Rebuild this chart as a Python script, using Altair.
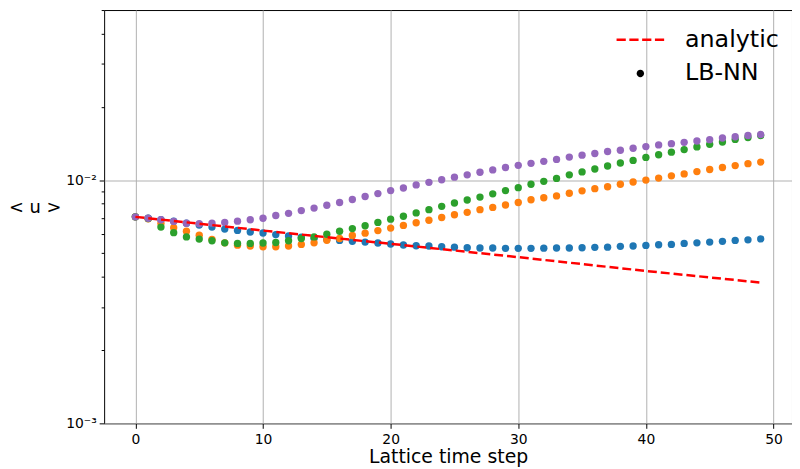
import altair as alt
import pandas as pd

steps = list(range(50))

run_blue = [0.00706, 0.00697, 0.00687, 0.00678, 0.00665, 0.00653, 0.00641, 0.00629, 0.00621, 0.00612,
            0.00606, 0.00597, 0.00589, 0.00582, 0.00575, 0.00570, 0.00565, 0.00560, 0.00556, 0.00551,
            0.00546, 0.00541, 0.00537, 0.00536, 0.00532, 0.00530, 0.00527, 0.00526, 0.00526, 0.00524,
            0.00524, 0.00524, 0.00525, 0.00526, 0.00526, 0.00527, 0.00529, 0.00530, 0.00534, 0.00536,
            0.00539, 0.00542, 0.00544, 0.00549, 0.00552, 0.00556, 0.00560, 0.00565, 0.00568, 0.00573]

run_orange = [0.00706, 0.00693, 0.00663, 0.00637, 0.00616, 0.00593, 0.00570, 0.00552, 0.00540, 0.00536,
              0.00532, 0.00532, 0.00536, 0.00544, 0.00552, 0.00566, 0.00575, 0.00592, 0.00605, 0.00620,
              0.00635, 0.00651, 0.00668, 0.00684, 0.00702, 0.00720, 0.00737, 0.00756, 0.00772, 0.00790,
              0.00809, 0.00830, 0.00846, 0.00861, 0.00883, 0.00903, 0.00922, 0.00939, 0.00961, 0.00982,
              0.01000, 0.01019, 0.01041, 0.01060, 0.01084, 0.01105, 0.01126, 0.01147, 0.01168, 0.01186]

run_green = [0.00706, 0.00695, 0.00641, 0.00608, 0.00584, 0.00572, 0.00563, 0.00552, 0.00549, 0.00549,
             0.00551, 0.00554, 0.00563, 0.00575, 0.00584, 0.00599, 0.00616, 0.00632, 0.00649, 0.00670,
             0.00691, 0.00710, 0.00733, 0.00756, 0.00780, 0.00805, 0.00828, 0.00851, 0.00878, 0.00905,
             0.00931, 0.00961, 0.00988, 0.01016, 0.01051, 0.01080, 0.01111, 0.01143, 0.01175, 0.01205,
             0.01239, 0.01271, 0.01302, 0.01335, 0.01369, 0.01403, 0.01434, 0.01470, 0.01497, 0.01525]

run_purple = [0.00706, 0.00697, 0.00687, 0.00676, 0.00665, 0.00662, 0.00665, 0.00670, 0.00678, 0.00687,
              0.00697, 0.00715, 0.00730, 0.00749, 0.00767, 0.00788, 0.00809, 0.00832, 0.00856, 0.00880,
              0.00905, 0.00928, 0.00955, 0.00979, 0.01003, 0.01028, 0.01051, 0.01077, 0.01101, 0.01126,
              0.01150, 0.01172, 0.01194, 0.01216, 0.01243, 0.01266, 0.01286, 0.01310, 0.01326, 0.01351,
              0.01373, 0.01395, 0.01412, 0.01429, 0.01448, 0.01466, 0.01489, 0.01507, 0.01525, 0.01540]

analytic_steps = [0, 10, 20, 30, 40, 49]
analytic_vals = [0.00706, 0.00620, 0.00547, 0.00482, 0.00423, 0.00379]

run_names = ["run 1", "run 2", "run 3", "run 4"]
run_colors = ["#1f77b4", "#ff7f0e", "#2ca02c", "#9467bd"]
legend_labels = ["analytic", "LB-NN"]

points_df = pd.concat(
    [pd.DataFrame({"t": steps, "u": vals, "run": name})
     for name, vals in zip(run_names, [run_blue, run_orange, run_green, run_purple])],
    ignore_index=True,
)
analytic_df = pd.DataFrame({"t": analytic_steps, "u": analytic_vals})
legend_df = pd.DataFrame({"lab": legend_labels})

FONT = "DejaVu Sans"
x_scale = alt.Scale(domain=[-2.45, 51.45], nice=False, zero=False)
y_scale = alt.Scale(type="log", domain=[0.001, 0.05], nice=False)

major_test = "abs(log(datum.value)/LN10 - round(log(datum.value)/LN10)) < 0.001"
y_ticks = [0.001, 0.002, 0.003, 0.004, 0.005, 0.006, 0.007, 0.008, 0.009,
           0.01, 0.02, 0.03, 0.04, 0.05]

x_axis = alt.Axis(
    values=[0, 10, 20, 30, 40, 50], grid=True, gridColor="#b0b0b0", gridWidth=1,
    domain=False, tickColor="black", tickSize=5, labelFontSize=14, labelFont=FONT,
    labelColor="black", labelFlush=False, labelPadding=4,
    title="Lattice time step", titleFont=FONT, titleFontSize=19, titleFontWeight="normal",
    titleColor="black", titleBaseline="alphabetic", titleY=40,
)
y_axis = alt.Axis(
    values=y_ticks, grid=True, gridColor="#b0b0b0", gridWidth=1,
    gridOpacity={"condition": {"test": major_test, "value": 1}, "value": 0},
    tickSize={"condition": {"test": major_test, "value": 5}, "value": 3},
    domain=False, tickColor="black", labelFontSize=14, labelFont=FONT, labelColor="black",
    labelFlush=False, labelPadding=3,
    labelExpr="abs(datum.value - 0.001) < 0.00001 ? '10⁻³' : (abs(datum.value - 0.01) < 0.0001 ? '10⁻²' : '')",
    title="< u >", titleFont=FONT, titleFontSize=18, titleFontWeight="normal", titleColor="black",
    titleAngle=0, titleAlign="center", titleBaseline="middle", titleX=-70, titleY=199,
)

points = alt.Chart(points_df).mark_circle(size=55, opacity=1).encode(
    x=alt.X("t:Q", scale=x_scale, axis=x_axis),
    y=alt.Y("u:Q", scale=y_scale, axis=y_axis),
    fill=alt.Fill("run:N", scale=alt.Scale(domain=run_names, range=run_colors), legend=None),
)

analytic = alt.Chart(analytic_df).mark_line(color="red", strokeWidth=2.5, strokeDash=[9, 4]).encode(
    x=alt.X("t:Q", scale=x_scale),
    y=alt.Y("u:Q", scale=y_scale),
)

# legend symbols: a dashed segment (four filled dashes) and a filled dot
dash_path = ("M-2,-0.1H-1.225V0.1H-2Z M-0.925,-0.1H-0.15V0.1H-0.925Z "
             "M0.15,-0.1H0.925V0.1H0.15Z M1.225,-0.1H2V0.1H1.225Z")
dot_path = "M0.31,0A0.31,0.31 0 1,1 -0.31,0A0.31,0.31 0 1,1 0.31,0Z"
leg = alt.Legend(
    title=None, orient="none", legendX=529, legendY=18, padding=0, labelFontSize=24, labelFont=FONT,
    labelColor="black", labelOffset=33, symbolStrokeWidth=0, symbolSize=576, rowPadding=10,
    labelLimit=300, symbolOpacity=1,
)
legend_layer = alt.Chart(legend_df).mark_point(filled=True, clip=True, opacity=1).encode(
    x=alt.value(-200), y=alt.value(-200),
    color=alt.Color("lab:N", scale=alt.Scale(domain=legend_labels, range=["red", "black"]), legend=leg),
    shape=alt.Shape("lab:N", scale=alt.Scale(domain=legend_labels, range=[dash_path, dot_path]), legend=leg),
)

chart = (
    alt.layer(points, analytic, legend_layer)
    .properties(
        width=694, height=417,
        autosize=alt.AutoSizeParams(type="none"),
        padding={"left": 97, "top": 0, "right": 0, "bottom": 44},
    )
    .configure_view(stroke="black", strokeWidth=1)
)

chart.save("out.html", embed_options={"renderer": "svg", "actions": False})
